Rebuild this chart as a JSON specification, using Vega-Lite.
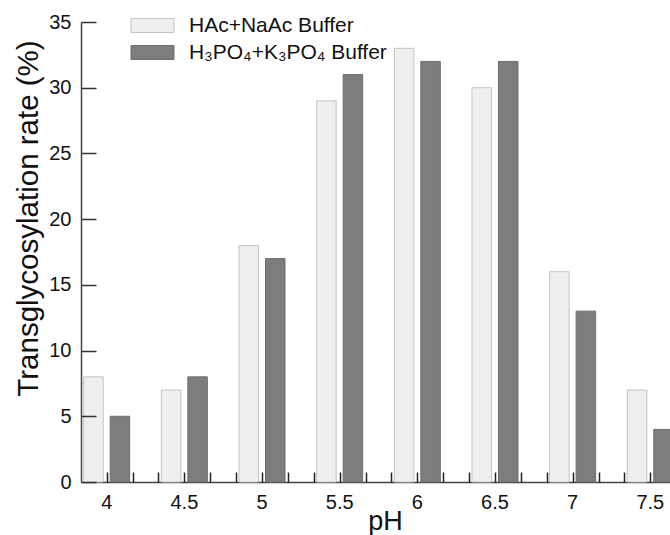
{
  "$schema": "https://vega.github.io/schema/vega-lite/v6.json",
  "width": 589,
  "height": 460,
  "autosize": {"type": "none"},
  "padding": {"left": 81, "top": 22, "right": 0, "bottom": 53},
  "background": "white",
  "config": {"font": "Liberation Sans", "view": {"stroke": null}},
  "data": {
    "values": [
      {"pH": 4, "buffer": "HAc+NaAc Buffer", "rate": 8},
      {"pH": 4, "buffer": "H₃PO₄+K₃PO₄ Buffer", "rate": 5},
      {"pH": 4.5, "buffer": "HAc+NaAc Buffer", "rate": 7},
      {"pH": 4.5, "buffer": "H₃PO₄+K₃PO₄ Buffer", "rate": 8},
      {"pH": 5, "buffer": "HAc+NaAc Buffer", "rate": 18},
      {"pH": 5, "buffer": "H₃PO₄+K₃PO₄ Buffer", "rate": 17},
      {"pH": 5.5, "buffer": "HAc+NaAc Buffer", "rate": 29},
      {"pH": 5.5, "buffer": "H₃PO₄+K₃PO₄ Buffer", "rate": 31},
      {"pH": 6, "buffer": "HAc+NaAc Buffer", "rate": 33},
      {"pH": 6, "buffer": "H₃PO₄+K₃PO₄ Buffer", "rate": 32},
      {"pH": 6.5, "buffer": "HAc+NaAc Buffer", "rate": 30},
      {"pH": 6.5, "buffer": "H₃PO₄+K₃PO₄ Buffer", "rate": 32},
      {"pH": 7, "buffer": "HAc+NaAc Buffer", "rate": 16},
      {"pH": 7, "buffer": "H₃PO₄+K₃PO₄ Buffer", "rate": 13},
      {"pH": 7.5, "buffer": "HAc+NaAc Buffer", "rate": 7},
      {"pH": 7.5, "buffer": "H₃PO₄+K₃PO₄ Buffer", "rate": 4}
    ]
  },
  "layer": [
    {
      "mark": {"type": "bar", "strokeWidth": 1},
      "encoding": {
        "x": {
          "field": "pH",
          "type": "ordinal",
          "scale": {"range": [0, 595], "paddingInner": 0.408, "paddingOuter": 0.035},
          "axis": {
            "orient": "bottom",
            "ticks": false,
            "labelAngle": 0,
            "labelFontSize": 20,
            "labelColor": "#111",
            "labelPadding": 10,
            "domainColor": "#444",
            "domainWidth": 1.5,
            "title": "pH",
            "titleFontSize": 27,
            "titleFontWeight": "normal",
            "titleColor": "#111",
            "titleX": 304,
            "titleY": 47,
            "titleBaseline": "alphabetic"
          }
        },
        "xOffset": {
          "field": "buffer",
          "type": "nominal",
          "sort": ["HAc+NaAc Buffer", "H₃PO₄+K₃PO₄ Buffer"],
          "scale": {"paddingInner": 0.264, "paddingOuter": 0}
        },
        "y": {
          "field": "rate",
          "type": "quantitative",
          "scale": {"domain": [0, 35], "nice": false},
          "axis": {
            "values": [0, 5, 10, 15, 20, 25, 30, 35],
            "grid": false,
            "ticks": true,
            "tickSize": -15,
            "labelPadding": 25,
            "domainColor": "#444",
            "tickColor": "#333",
            "domainWidth": 1.5,
            "tickWidth": 1.5,
            "zindex": 2,
            "labelFontSize": 20,
            "labelColor": "#111",
            "title": "Transglycosylation rate (%)",
            "titleFontSize": 29.5,
            "titleFontWeight": "normal",
            "titleColor": "#111",
            "titleX": -44,
            "titleY": 196,
            "titleAngle": 270,
            "titleBaseline": "alphabetic"
          }
        },
        "fill": {
          "field": "buffer",
          "type": "nominal",
          "scale": {"domain": ["HAc+NaAc Buffer", "H₃PO₄+K₃PO₄ Buffer"], "range": ["#efefef", "#7d7d7d"]},
          "legend": {
            "title": null,
            "orient": "none",
            "legendX": 61,
            "legendY": -7,
            "symbolType": "M-2.15,-0.7H2.15V0.7H-2.15Z",
            "symbolSize": 400,
            "symbolStrokeWidth": 1,
            "labelFontSize": 21,
            "labelColor": "#111",
            "labelOffset": 26,
            "labelLimit": 0,
            "rowPadding": 5
          }
        },
        "stroke": {
          "field": "buffer",
          "type": "nominal",
          "scale": {"domain": ["HAc+NaAc Buffer", "H₃PO₄+K₃PO₄ Buffer"], "range": ["#c4c4c4", "#6e6e6e"]},
          "legend": {
            "title": null,
            "orient": "none",
            "legendX": 61,
            "legendY": -7,
            "symbolType": "M-2.15,-0.7H2.15V0.7H-2.15Z",
            "symbolSize": 400,
            "symbolStrokeWidth": 1,
            "labelFontSize": 21,
            "labelColor": "#111",
            "labelOffset": 26,
            "labelLimit": 0,
            "rowPadding": 5
          }
        }
      }
    },
    {
      "mark": {"type": "point", "opacity": 0},
      "encoding": {
        "x": {
          "field": "pH",
          "type": "quantitative",
          "scale": {"domain": [3.8345, 7.6654], "range": [0, 595], "nice": false, "zero": false},
          "axis": {
            "orient": "bottom",
            "values": [4, 4.16667, 4.33333, 4.5, 4.66667, 4.83333, 5, 5.16667, 5.33333, 5.5, 5.66667, 5.83333, 6, 6.16667, 6.33333, 6.5, 6.66667, 6.83333, 7, 7.16667, 7.33333, 7.5],
            "labels": false,
            "domain": false,
            "grid": false,
            "ticks": true,
            "offset": -10,
            "tickSize": 10,
            "tickColor": "#222",
            "tickWidth": 1.5,
            "zindex": 2,
            "title": null
          }
        }
      }
    }
  ],
  "resolve": {"scale": {"x": "independent"}, "axis": {"x": "independent"}}
}
